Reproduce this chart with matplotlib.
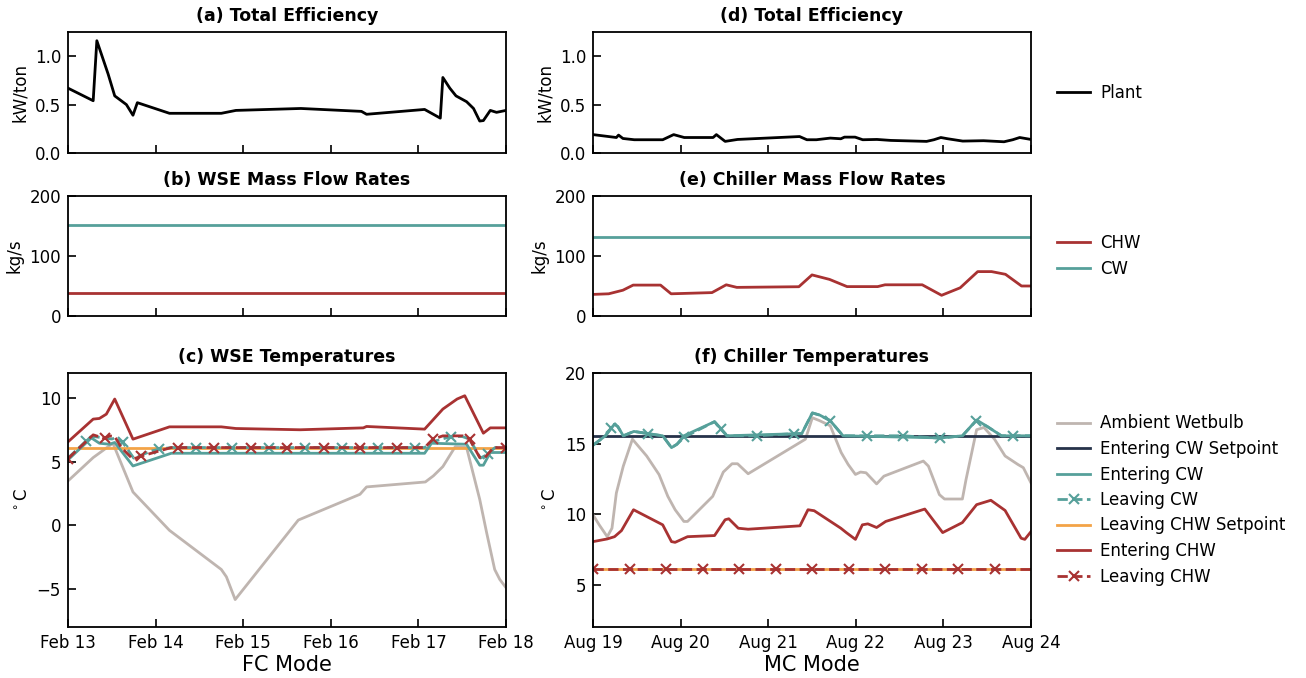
import matplotlib
matplotlib.use("Agg")
import matplotlib.pyplot as plt
import matplotlib.dates as mdates
from matplotlib.lines import Line2D
import pandas as pd

plt.rcParams['font.family'] = ['DejaVu Sans']

# ---------------- data (time in hours from start of window) ----------------
FC_START = "2017-02-13"
MC_START = "2017-08-19"

# (a) Plant efficiency, FC mode
a_hours = [0, 6.9, 7.9, 11, 12.8, 16, 17.8, 19, 27.8, 42, 46, 63.8, 80.4, 81.8,
           97.7, 102, 102.7, 104.6, 106.3, 109.2, 111.1, 112.8, 113.8, 115.7, 117.4, 120]
a_plant = [0.67, 0.54, 1.16, 0.815, 0.59, 0.50, 0.39, 0.52, 0.41, 0.41, 0.44, 0.46, 0.43, 0.40,
           0.45, 0.36, 0.78, 0.67, 0.59, 0.53, 0.46, 0.33, 0.335, 0.44, 0.42, 0.44]

# (d) Plant efficiency, MC mode
d_hours = [0, 6.4, 7, 8.2, 11.3, 19.1, 22.1, 25, 32.9, 33.8, 36.2, 39.6, 56.6, 58.6, 61.2, 65,
           67.9, 68.9, 71.8, 73.9, 77.8, 81.6, 91.4, 93.4, 95.3, 97.2, 101.3, 107, 112.6, 115, 116.9, 120]
d_plant = [0.19, 0.16, 0.185, 0.15, 0.137, 0.137, 0.19, 0.16, 0.16, 0.19, 0.12, 0.14, 0.17, 0.137, 0.137, 0.154,
           0.147, 0.164, 0.164, 0.137, 0.14, 0.13, 0.12, 0.137, 0.16, 0.147, 0.123, 0.127, 0.116, 0.137, 0.16, 0.14]

# (b) WSE mass flow rates (constant)
b_hours = [0, 120]
b_chw = [38, 38]
b_cw = [151, 151]

# (e) Chiller mass flow rates
e_hours = [0, 4.3, 8.2, 11, 18.5, 21.4, 32.6, 36.5, 39.4, 56.4, 60, 64.8, 69.6, 78, 80, 90.2,
           95.5, 100.6, 105.4, 109.2, 113, 117.4, 120]
e_chw = [36, 37, 43, 51.5, 51.5, 37, 39, 52, 47.7, 48.8, 68.5, 61, 49, 49, 52, 52,
         34.5, 47, 74, 74, 69.5, 50, 50]
e_cw_hours = [0, 120]
e_cw = [132, 132]

# setpoints
chw_setpoint = 6.11   # Leaving CHW setpoint
cw_setpoint = 15.56   # Entering CW setpoint

# (c) WSE temperatures
c_wb_hours = [0, 6.9, 12.3, 17.8, 27.8, 42, 43.4, 45.8, 63.1, 80, 81.8, 97.9, 100.1, 102.7,
              106.1, 109.2, 112.8, 114.7, 116.9, 118.3, 120]
c_wb = [3.5, 5.34, 6.47, 2.63, -0.39, -3.47, -4.05, -5.84, 0.42, 2.45, 3.03, 3.42, 3.9, 4.63,
        6.2, 6.13, 2.05, -0.58, -3.47, -4.26, -4.9]

c_echw_hours = [0, 6.9, 8.6, 10.5, 12.8, 17.8, 27.8, 42, 46, 63.6, 80.9, 81.8, 97.7, 102.7,
                106.6, 108.7, 113.8, 115.7, 120]
c_echw = [6.58, 8.37, 8.42, 8.76, 9.95, 6.79, 7.76, 7.76, 7.63, 7.53, 7.68, 7.79, 7.58, 9.16,
          9.95, 10.21, 7.26, 7.68, 7.68]

c_ecw_hours = [0, 6.4, 8.6, 11.4, 12.8, 17.8, 28.3, 97.7, 99.6, 109.2, 112.8, 113.8, 115.7, 120]
c_ecw = [5.16, 6.89, 6.47, 6.39, 6.53, 4.68, 5.68, 5.68, 6.47, 6.39, 4.74, 4.74, 5.74, 5.74]

c_lcw_hours = [0, 5, 7, 12, 13, 15, 18, 23, 25, 28.3, 35, 45, 55, 65, 75, 85, 95, 97.7,
               100, 105, 108, 110, 113, 115, 117, 120]
c_lcw = [5.3, 6.66, 7.0, 6.8, 6.9, 6.53, 5.3, 5.87, 6.0, 6.13, 6.13, 6.13, 6.13, 6.13, 6.13, 6.13, 6.13, 6.13,
         6.6, 7.0, 7.0, 6.8, 5.3, 5.6, 6.13, 6.13]

c_lchw_hours = [0, 6.9, 10, 11.4, 12.8, 14.6, 17.8, 20, 28.3, 30, 40, 50, 60, 70, 80, 90,
                97.7, 100, 102.7, 108.2, 110, 112.8, 114.2, 116.6, 120]
c_lchw = [5.26, 7.13, 6.85, 7.05, 7.0, 6.13, 5.21, 5.45, 6.13, 6.13, 6.13, 6.13, 6.13, 6.13, 6.13, 6.13,
          6.13, 6.79, 7.05, 7.05, 6.8, 5.34, 5.34, 6.13, 6.13]

# (f) Chiller temperatures
f_wb_hours = [0, 1.7, 3.9, 5.2, 6.4, 8.3, 10.8, 14.7, 18.1, 20.5, 22.5, 24.9, 25.9, 32.8, 35.7,
              38.1, 39.6, 42.5, 58.2, 60.1, 62.1, 65, 68, 69.9, 71.9, 73.3, 74.8, 77.7, 79.7,
              90.5, 91.9, 94.9, 96.3, 101.2, 102.2, 105.1, 107.1, 110, 112.9, 116.4, 117.9, 120]
f_wb = [9.95, 9.24, 8.4, 9.0, 11.5, 13.4, 15.31, 14.12, 12.8, 11.26, 10.31, 9.48, 9.48, 11.26, 12.98,
        13.57, 13.57, 12.86, 15.31, 16.83, 16.62, 16.26, 14.36, 13.52, 12.81, 12.98, 12.93, 12.14, 12.69,
        13.76, 13.4, 11.38, 11.07, 11.07, 12.45, 15.98, 16.14, 15.31, 14.12, 13.52, 13.29, 12.21]

f_ecw_hours = [0, 3.4, 5.9, 6.8, 8.3, 11.2, 13.7, 19.1, 21.5, 23, 24.9, 33.3, 35.2, 36.7, 57.2,
               60.1, 62.1, 65, 68.5, 95.4, 101.2, 105.1, 108, 111.9, 120]
f_ecw = [14.88, 15.55, 16.38, 16.2, 15.55, 15.86, 15.76, 15.55, 14.71, 14.95, 15.55, 16.55, 16.02, 15.55, 15.71,
         17.17, 17.02, 16.62, 15.55, 15.4, 15.55, 16.67, 16.21, 15.55, 15.55]

f_lcw_hours = [0, 3.4, 5, 5.9, 6.8, 8.3, 11.2, 13.7, 15, 19.1, 21.5, 23, 25, 33.3, 35, 36.7,
               45, 55, 57.2, 60.1, 62.1, 65, 68.5, 75, 85, 95, 101.2, 105, 108, 111.9, 115, 120]
f_lcw = [14.88, 15.55, 16.1, 16.38, 16.2, 15.55, 15.86, 15.76, 15.7, 15.55, 14.71, 14.95, 15.45, 16.55, 16.02, 15.55,
         15.55, 15.7, 15.71, 17.17, 17.02, 16.62, 15.55, 15.55, 15.55, 15.38, 15.55, 16.62, 16.21, 15.55, 15.55, 15.55]

f_echw_hours = [0, 3.9, 5.9, 7.8, 11.1, 19.1, 21.5, 22.5, 25.9, 33.3, 36.2, 37.2, 39.8, 42.5, 56.7,
                58.9, 60.6, 67.9, 69.4, 71.9, 73.8, 75.3, 77.7, 80.2, 90.9, 95.8, 101.2, 105.1, 109,
                112.9, 117.3, 118.3, 120]
f_echw = [8.05, 8.24, 8.4, 8.83, 10.31, 9.24, 8.05, 8.0, 8.4, 8.48, 9.6, 9.67, 9.0, 8.93, 9.17,
          10.31, 10.24, 9.0, 8.69, 8.21, 9.24, 9.31, 9.05, 9.48, 10.36, 8.69, 9.40, 10.67, 10.98,
          10.26, 8.29, 8.21, 8.76]

f_lchw_hours = [0, 10, 20, 30, 40, 50, 60, 70, 80, 90, 100, 110, 120]
f_lchw = [6.11] * 13

# ---------------- styling ----------------
C_GRAY = "#bfb5b0"
C_NAVY = "#26324a"
C_TEAL = "#56a09a"
C_ORANGE = "#f3a347"
C_RED = "#a83232"
LW = 2.0
MS = 7.5
MEW = 1.5


def tt(start, hours):
    return pd.Timestamp(start) + pd.to_timedelta(hours, unit="h")


def marks(hours, first):
    return [i for i, h in enumerate(hours) if h >= first and abs((h - first) % 10) < 1e-9]


fig = plt.figure(figsize=(13.06, 6.78), dpi=100)
W, H = 1306, 678


def add_ax(l, r, t, b):
    return fig.add_axes([l / W, 1 - b / H, (r - l) / W, (b - t) / H])


colx = [(68, 506), (593, 1031)]
rows = [(32, 153), (196, 316), (373, 627)]
axs = [[add_ax(cx[0], cx[1], ry[0], ry[1]) for cx in colx] for ry in rows]

for ci, start in enumerate([FC_START, MC_START]):
    for ri in range(3):
        ax = axs[ri][ci]
        ax.set_xlim(tt(start, 0), tt(start, 120))
        ax.xaxis.set_major_locator(mdates.DayLocator())
        ax.xaxis.set_major_formatter(mdates.DateFormatter("%b %d"))
        ax.tick_params(direction="in", length=6, width=1.2, labelsize=12, pad=5)
        for s in ax.spines.values():
            s.set_linewidth(1.3)
        if ri < 2:
            ax.tick_params(labelbottom=False)

TITLE_KW = dict(fontsize=12.5, fontweight="bold", pad=8)
LEG_KW = dict(loc="center left", bbox_to_anchor=(1.025, 0.5), frameon=False, fontsize=12,
              handletextpad=0.6)

# (a)
ax = axs[0][0]
ax.plot(tt(FC_START, a_hours), a_plant, color="black", lw=LW)
ax.set_ylim(0, 1.25)
ax.set_yticks([0, 0.5, 1.0])
ax.set_ylabel("kW/ton", fontsize=12)
ax.set_title("(a) Total Efficiency", **TITLE_KW)

# (d)
ax = axs[0][1]
ax.plot(tt(MC_START, d_hours), d_plant, color="black", lw=LW, label="Plant")
ax.set_ylim(0, 1.25)
ax.set_yticks([0, 0.5, 1.0])
ax.set_ylabel("kW/ton", fontsize=12)
ax.set_title("(d) Total Efficiency", **TITLE_KW)
ax.legend(**LEG_KW)

# (b)
ax = axs[1][0]
ax.plot(tt(FC_START, b_hours), b_chw, color=C_RED, lw=LW)
ax.plot(tt(FC_START, b_hours), b_cw, color=C_TEAL, lw=LW)
ax.set_ylim(0, 200)
ax.set_yticks([0, 100, 200])
ax.set_ylabel("kg/s", fontsize=12)
ax.set_title("(b) WSE Mass Flow Rates", **TITLE_KW)

# (e)
ax = axs[1][1]
ax.plot(tt(MC_START, e_hours), e_chw, color=C_RED, lw=LW, label="CHW")
ax.plot(tt(MC_START, e_cw_hours), e_cw, color=C_TEAL, lw=LW, label="CW")
ax.set_ylim(0, 200)
ax.set_yticks([0, 100, 200])
ax.set_ylabel("kg/s", fontsize=12)
ax.set_title("(e) Chiller Mass Flow Rates", **TITLE_KW)
ax.legend(**LEG_KW)

# (c)
ax = axs[2][0]
ax.plot(tt(FC_START, c_wb_hours), c_wb, color=C_GRAY, lw=LW)
ax.plot(tt(FC_START, [0, 120]), [chw_setpoint, chw_setpoint], color=C_ORANGE, lw=LW)
ax.plot(tt(FC_START, c_ecw_hours), c_ecw, color=C_TEAL, lw=LW)
ax.plot(tt(FC_START, c_lcw_hours), c_lcw, color=C_TEAL, lw=LW, ls="--", marker="x",
        markersize=MS, mew=MEW, markevery=marks(c_lcw_hours, 5))
ax.plot(tt(FC_START, c_echw_hours), c_echw, color=C_RED, lw=LW)
ax.plot(tt(FC_START, c_lchw_hours), c_lchw, color=C_RED, lw=LW, ls="--", marker="x",
        markersize=MS, mew=MEW, markevery=marks(c_lchw_hours, 0))
ax.set_ylim(-8, 12)
ax.set_yticks([-5, 0, 5, 10])
ax.set_ylabel(r"$^\circ$C", fontsize=12)
ax.set_title("(c) WSE Temperatures", **TITLE_KW)
ax.set_xlabel("FC Mode", fontsize=15, labelpad=2)

# (f)
ax = axs[2][1]
h1, = ax.plot(tt(MC_START, f_wb_hours), f_wb, color=C_GRAY, lw=LW)
h2, = ax.plot(tt(MC_START, [0, 120]), [cw_setpoint, cw_setpoint], color=C_NAVY, lw=LW)
h3, = ax.plot(tt(MC_START, f_ecw_hours), f_ecw, color=C_TEAL, lw=LW)
ax.plot(tt(MC_START, f_lcw_hours), f_lcw, color=C_TEAL, lw=LW, ls="--", marker="x",
        markersize=MS, mew=MEW, markevery=marks(f_lcw_hours, 5))
h5, = ax.plot(tt(MC_START, [0, 120]), [chw_setpoint, chw_setpoint], color=C_ORANGE, lw=LW)
h6, = ax.plot(tt(MC_START, f_echw_hours), f_echw, color=C_RED, lw=LW)
ax.plot(tt(MC_START, f_lchw_hours), f_lchw, color=C_RED, lw=LW, ls="--", marker="x",
        markersize=MS, mew=MEW, markevery=marks(f_lchw_hours, 0)[:-1])
ax.set_ylim(2, 20)
ax.set_yticks([5, 10, 15, 20])
ax.set_ylabel(r"$^\circ$C", fontsize=12)
ax.set_title("(f) Chiller Temperatures", **TITLE_KW)
ax.set_xlabel("MC Mode", fontsize=15, labelpad=2)
leg_handles = [h1, h2, h3,
               Line2D([], [], color=C_TEAL, lw=LW, ls="--", marker="x", markersize=MS, mew=MEW),
               h5, h6,
               Line2D([], [], color=C_RED, lw=LW, ls="--", marker="x", markersize=MS, mew=MEW)]
leg_labels = ["Ambient Wetbulb", "Entering CW Setpoint", "Entering CW", "Leaving CW",
              "Leaving CHW Setpoint", "Entering CHW", "Leaving CHW"]
ax.legend(leg_handles, leg_labels, labelspacing=0.45, **LEG_KW)

fig.savefig("out.png", dpi=100)
